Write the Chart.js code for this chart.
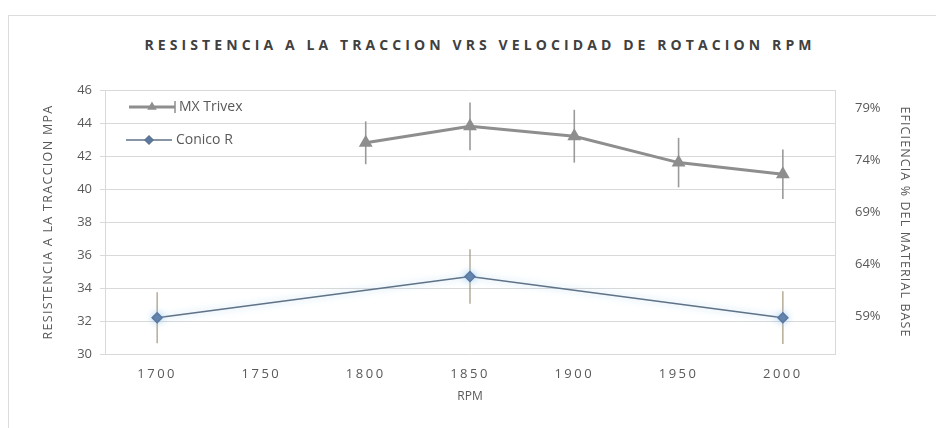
<!DOCTYPE html>
<html>
<head>
<meta charset="utf-8">
<script src="https://cdn.jsdelivr.net/npm/chart.js@4.4.0/dist/chart.umd.min.js"></script>
<style>
html,body{margin:0;padding:0;background:#fff;}
#wrap{position:relative;width:936px;height:428px;overflow:hidden;}
#frame{position:absolute;left:8px;top:15px;width:940px;height:420px;border-left:1px solid #dcdcdc;border-top:1px solid #dcdcdc;box-sizing:border-box;}
#title{position:absolute;left:140px;width:680px;top:35px;text-align:center;font:bold 14px "Open Sans";letter-spacing:4.1px;color:#404040;white-space:nowrap;}
canvas{position:absolute;left:0;top:0;}
</style>
</head>
<body>
<div id="wrap">
  <div id="frame"></div>
  <div id="title">RESISTENCIA A LA TRACCION VRS VELOCIDAD DE ROTACION RPM</div>
  <canvas id="chart" width="936" height="428"></canvas>
</div>
<script>
// ── données ──
const xTicks = [1700, 1750, 1800, 1850, 1900, 1950, 2000];
const pctTicks = [59, 64, 69, 74, 79];

const trivexRpm = [1800, 1850, 1900, 1950, 2000];
const trivexMpa = [42.8, 43.8, 43.2, 41.6, 40.9];
const trivexErr = [1.3, 1.45, 1.6, 1.5, 1.5];

const conicoRpm = [1700, 1850, 2000];
const conicoMpa = [32.2, 34.7, 32.2];
const conicoErr = [1.55, 1.65, 1.6];

const TXT = '#595959';
const GRID = '#d9d9d9';

function pts(xs, ys){ return xs.map((x,i)=>({ x, y: ys[i] })); }

// barres d'erreur verticales
const errorBars = {
  id: 'errorBars',
  beforeDatasetsDraw(chart){
    const ctx = chart.ctx, y = chart.scales.y;
    chart.data.datasets.forEach((ds, di) => {
      const meta = chart.getDatasetMeta(di);
      if(!ds.errs) return;
      ctx.save();
      ctx.strokeStyle = ds.errColor;
      ctx.lineWidth = ds.errWidth;
      meta.data.forEach((p, i) => {
        const v = ds.data[i].y, e = ds.errs[i];
        ctx.beginPath();
        ctx.moveTo(p.x, y.getPixelForValue(v + e));
        ctx.lineTo(p.x, y.getPixelForValue(v - e));
        ctx.stroke();
      });
      ctx.restore();
    });
  }
};

// halo bleu clair sous la série Conico
const glow = {
  id: 'glow',
  beforeDatasetDraw(chart, args){
    if(args.index !== 1) return;
    chart.ctx.shadowColor = 'rgba(140,195,235,0.7)';
    chart.ctx.shadowBlur = 7;
  },
  afterDatasetDraw(chart, args){
    if(args.index !== 1) return;
    chart.ctx.shadowColor = 'rgba(0,0,0,0)';
    chart.ctx.shadowBlur = 0;
  }
};

// légende dans la zone de tracé
const innerLegend = {
  id: 'innerLegend',
  afterDraw(chart){
    const ctx = chart.ctx, a = chart.chartArea;
    ctx.save();
    ctx.font = '14px "Open Sans"';
    ctx.fillStyle = TXT;
    ctx.textBaseline = 'middle';
    chart.data.datasets.forEach((ds, i) => {
      const yy = a.top + 17 + i * 33;
      const x0 = a.left + 24 - i * 3, x1 = x0 + 46;
      ctx.strokeStyle = ds.borderColor;
      ctx.lineWidth = ds.borderWidth;
      ctx.beginPath(); ctx.moveTo(x0, yy); ctx.lineTo(x1, yy); ctx.stroke();
      if(i === 0){
        ctx.lineWidth = 1.5;
        ctx.beginPath(); ctx.moveTo(x1, yy - 6); ctx.lineTo(x1, yy + 6); ctx.stroke();
      }
      Chart.helpers.drawPoint(ctx, {
        pointStyle: ds.pointStyle, radius: ds.pointRadius - 1, borderWidth: 1
      }, (x0 + x1) / 2, yy);
      ctx.fillStyle = ds.pointBackgroundColor;
      ctx.fill();
      ctx.fillStyle = TXT;
      ctx.fillText(ds.label, x1 + 4, yy);
    });
    ctx.restore();
  }
};

// espacement des lettres : étiquettes X et titres des axes Y
function spaced(scale, fn, sp){
  const orig = scale[fn].bind(scale);
  scale[fn] = function(...args){
    this.ctx.save();
    this.ctx.letterSpacing = sp;
    orig(...args);
    this.ctx.restore();
  };
}
const spacing = {
  id: 'spacing',
  beforeDraw(chart){
    if(chart._spaced) return;
    spaced(chart.scales.x, 'drawLabels', '2.5px');
    spaced(chart.scales.y, 'drawTitle', '1.3px');
    spaced(chart.scales.y1, 'drawTitle', '1.1px');
    chart._spaced = true;
  }
};

new Chart(document.getElementById('chart'), {
  type: 'line',
  data: {
    datasets: [
      {
        label: 'MX Trivex',
        data: pts(trivexRpm, trivexMpa),
        errs: trivexErr, errColor: '#9a9a9a', errWidth: 1.6,
        borderColor: '#8e8e8e', borderWidth: 3,
        pointStyle: 'triangle', pointRadius: 5,
        pointBackgroundColor: '#8e8e8e', pointBorderColor: '#8e8e8e',
        tension: 0, yAxisID: 'y'
      },
      {
        label: 'Conico R',
        data: pts(conicoRpm, conicoMpa),
        errs: conicoErr, errColor: 'rgba(140,125,95,0.75)', errWidth: 1.3,
        borderColor: '#5f7286', borderWidth: 1.5,
        pointStyle: 'rectRot', pointRadius: 5,
        pointBackgroundColor: '#5b78a0', pointBorderColor: '#5b78a0',
        tension: 0, yAxisID: 'y'
      }
    ]
  },
  options: {
    responsive: false,
    animation: false,
    devicePixelRatio: 1,
    layout: { padding: { left: 37, right: 20, top: 90, bottom: 20 } },
    plugins: { legend: { display: false }, tooltip: { enabled: false } },
    scales: {
      x: {
        type: 'linear', min: 1675, max: 2025,
        afterBuildTicks: s => { s.ticks = xTicks.map(v => ({ value: v })); },
        afterFit: s => { s.height = 54; },
        grid: { display: false },
        border: { display: false },
        ticks: { color: TXT, font: { family: 'Open Sans', size: 13 }, padding: 4, callback: v => String(v) },
        title: { display: true, text: 'RPM', color: TXT, font: { family: 'Open Sans', size: 12 }, padding: { top: 2 } }
      },
      y: {
        position: 'left', min: 30, max: 46,
        afterFit: s => { s.width = 68; },
        grid: { color: GRID, tickLength: 5 },
        border: { display: true, color: GRID },
        ticks: { stepSize: 2, color: TXT, font: { family: 'Open Sans', size: 13 }, padding: 8 },
        title: { display: true, text: 'RESISTENCIA A LA TRACCION MPA', color: TXT, font: { family: 'Open Sans', size: 12.5 }, padding: { bottom: 4 } }
      },
      y1: {
        position: 'right', min: 55.4, max: 80.8,
        afterBuildTicks: s => { s.ticks = pctTicks.map(v => ({ value: v })); },
        afterFit: s => { s.width = 81; },
        grid: { display: false },
        border: { display: true, color: GRID },
        ticks: { color: TXT, font: { family: 'Open Sans', size: 13 }, padding: 12, callback: v => v + '%' },
        title: { display: true, text: 'EFICIENCIA % DEL MATERIAL BASE', color: TXT, font: { family: 'Open Sans', size: 12.5 }, padding: { top: 4 } }
      }
    }
  },
  plugins: [errorBars, glow, innerLegend, spacing]
});
</script>
</body>
</html>
